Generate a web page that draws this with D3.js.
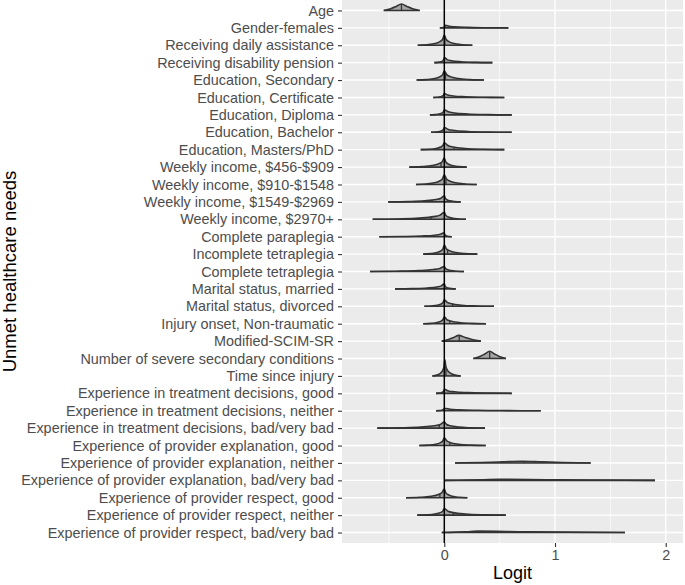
<!DOCTYPE html>
<html>
<head>
<meta charset="utf-8">
<script src="https://cdn.jsdelivr.net/npm/d3@7"></script>
<style>
  body { margin: 0; background: #fff; }
  text { font-family: "Liberation Sans", Arial, Helvetica, sans-serif; }
</style>
</head>
<body>
<div id="chart"></div>
<script>
// categories, top to bottom
const labels = [
  'Age', 'Gender-females', 'Receiving daily assistance', 'Receiving disability pension',
  'Education, Secondary', 'Education, Certificate', 'Education, Diploma', 'Education, Bachelor',
  'Education, Masters/PhD', 'Weekly income, $456-$909', 'Weekly income, $910-$1548',
  'Weekly income, $1549-$2969', 'Weekly income, $2970+', 'Complete paraplegia',
  'Incomplete tetraplegia', 'Complete tetraplegia', 'Marital status, married',
  'Marital status, divorced', 'Injury onset, Non-traumatic', 'Modified-SCIM-SR',
  'Number of severe secondary conditions', 'Time since injury',
  'Experience in treatment decisions, good', 'Experience in treatment decisions, neither',
  'Experience in treatment decisions, bad/very bad', 'Experience of provider explanation, good',
  'Experience of provider explanation, neither', 'Experience of provider explanation, bad/very bad',
  'Experience of provider respect, good', 'Experience of provider respect, neither',
  'Experience of provider respect, bad/very bad'
];

// posterior density summaries (logit scale)
const lows    = [-0.547, -0.04, -0.24, -0.09, -0.25, -0.10, -0.13, -0.12, -0.213, -0.316, -0.256, -0.506, -0.647, -0.587, -0.19, -0.671, -0.445, -0.18, -0.19, -0.023, 0.262, -0.108, -0.075, -0.075, -0.605, -0.226, 0.097, 0.006, -0.346, -0.244, -0.023];
const modes   = [-0.387, 0.01, 0, 0, 0, 0, 0, 0, 0, 0, 0, 0, 0, 0, 0, 0, 0, 0, 0, 0.13, 0.41, 0.005, 0, 0, 0, 0, 0.70, 0.50, 0, 0, 0.30];
const highs   = [-0.222, 0.578, 0.253, 0.434, 0.359, 0.542, 0.609, 0.609, 0.542, 0.202, 0.293, 0.148, 0.196, 0.067, 0.298, 0.178, 0.103, 0.449, 0.377, 0.33, 0.557, 0.148, 0.609, 0.871, 0.368, 0.374, 1.322, 1.903, 0.208, 0.555, 1.632];
// peak density height, in row steps
const peaks   = [0.37, 0.15, 0.58, 0.29, 0.52, 0.23, 0.29, 0.27, 0.40, 0.52, 0.56, 0.35, 0.40, 0.23, 0.52, 0.29, 0.29, 0.38, 0.40, 0.33, 0.42, 0.92, 0.23, 0.14, 0.35, 0.44, 0.10, 0.06, 0.50, 0.38, 0.08];
const medians = [-0.387, 0.232, 0.005, 0.12, 0.01, 0.15, 0.155, 0.165, 0.09, -0.03, 0.015, -0.11, -0.12, -0.19, 0.03, -0.14, -0.12, 0.075, 0.05, 0.135, 0.41, 0.015, 0.2, 0.3, -0.045, 0.05, 0.72, 0.75, -0.04, 0.08, 0.70];
const shapes  = ['bell', 'cusp', 'cusp', 'cusp', 'cusp', 'cusp', 'cusp', 'cusp', 'cusp', 'cusp', 'cusp', 'cusp', 'cusp', 'cusp', 'cusp', 'cusp', 'cusp', 'cusp', 'cusp', 'bell', 'bell', 'cusp', 'cusp', 'cusp', 'cusp', 'cusp', 'bell', 'bell', 'cusp', 'cusp', 'bell'];
const xTicks = [0, 1, 2];

const W = 685, H = 585;
const panel = { left: 342, right: 683, top: 0, bottom: 543 };

const svg = d3.select('#chart').append('svg')
  .attr('width', W).attr('height', H);

const x = d3.scaleLinear().domain([-0.924, 2.156]).range([panel.left, panel.right]);
const y = d3.scalePoint().domain(labels).range([panel.top, panel.bottom]).padding(0.6);
const step = y.step();

// panel
svg.append('rect')
  .attr('x', panel.left).attr('y', panel.top)
  .attr('width', panel.right - panel.left).attr('height', panel.bottom - panel.top)
  .attr('fill', '#ebebeb');

const grid = svg.append('g');
grid.selectAll('.minor').data([-0.5, 0.5, 1.5]).enter().append('line')
  .attr('x1', d => x(d)).attr('x2', d => x(d))
  .attr('y1', panel.top).attr('y2', panel.bottom)
  .attr('stroke', '#fff').attr('stroke-width', 0.7);
grid.selectAll('.majx').data(xTicks).enter().append('line')
  .attr('x1', d => x(d)).attr('x2', d => x(d))
  .attr('y1', panel.top).attr('y2', panel.bottom)
  .attr('stroke', '#fff').attr('stroke-width', 1.4);
grid.selectAll('.majy').data(labels).enter().append('line')
  .attr('x1', panel.left).attr('x2', panel.right)
  .attr('y1', d => y(d)).attr('y2', d => y(d))
  .attr('stroke', '#fff').attr('stroke-width', 1.4);

// outline profile: [fraction of distance from mode, fraction of peak]
const profiles = {
  cusp: [[0, 1], [0.06, 0.6], [0.15, 0.38], [0.35, 0.17], [0.65, 0.05], [1, 0]],
  bell: [[0, 1], [0.3, 0.62], [0.6, 0.28], [1, 0]]
};

function ridgePoints(i) {
  const prof = profiles[shapes[i]];
  const m = modes[i];
  const left = prof.slice().reverse().map(([t, h]) => [m - t * (m - lows[i]), h * peaks[i]]);
  const right = prof.slice(1).map(([t, h]) => [m + t * (highs[i] - m), h * peaks[i]]);
  return left.concat(right);
}

const ridges = svg.append('g');
labels.forEach((lab, i) => {
  const pts = ridgePoints(i);
  const base = y(lab);
  const area = d3.area()
    .x(d => x(d[0]))
    .y0(base)
    .y1(d => base - d[1] * step)
    .curve(d3.curveMonotoneX);
  const line = d3.line()
    .x(d => x(d[0]))
    .y(d => base - d[1] * step)
    .curve(d3.curveMonotoneX);

  ridges.append('path').attr('d', area(pts))
    .attr('fill', '#a4a4a4').attr('stroke', 'none');

  const hAt = d3.scaleLinear().domain(pts.map(d => d[0])).range(pts.map(d => d[1])).clamp(true);
  ridges.append('line')
    .attr('x1', x(medians[i])).attr('x2', x(medians[i]))
    .attr('y1', base).attr('y2', base - hAt(medians[i]) * step)
    .attr('stroke', '#333').attr('stroke-width', 1.3);

  ridges.append('path').attr('d', line(pts))
    .attr('fill', 'none').attr('stroke', '#333').attr('stroke-width', 1.6);
  ridges.append('line')
    .attr('x1', x(lows[i])).attr('x2', x(highs[i]))
    .attr('y1', base).attr('y2', base)
    .attr('stroke', '#333').attr('stroke-width', 1.6);
});

// reference line at zero
svg.append('line')
  .attr('x1', x(0)).attr('x2', x(0))
  .attr('y1', panel.top).attr('y2', panel.bottom)
  .attr('stroke', '#000').attr('stroke-width', 1.5);

// axes
const yAxis = svg.append('g')
  .attr('transform', `translate(${panel.left},0)`)
  .call(d3.axisLeft(y).tickSize(4).tickPadding(4));
const xAxis = svg.append('g')
  .attr('transform', `translate(0,${panel.bottom})`)
  .call(d3.axisBottom(x).tickValues(xTicks).tickFormat(d3.format('d')).tickSize(4).tickPadding(3));

[yAxis, xAxis].forEach(ax => {
  ax.select('.domain').remove();
  ax.attr('font-size', null).attr('font-family', null);
  ax.selectAll('.tick line').attr('stroke', '#333').attr('stroke-width', 1.1);
  ax.selectAll('.tick text')
    .attr('fill', '#4d4d4d')
    .style('font-size', '14.4px')
    .style('font-family', '"Liberation Sans", Arial, Helvetica, sans-serif');
});

svg.append('text')
  .attr('x', (panel.left + panel.right) / 2).attr('y', 579)
  .attr('text-anchor', 'middle')
  .style('font-size', '18px')
  .attr('fill', '#000')
  .text('Logit');

svg.append('text')
  .attr('transform', `translate(16,${(panel.top + panel.bottom) / 2}) rotate(-90)`)
  .attr('text-anchor', 'middle')
  .style('font-size', '18.5px')
  .attr('fill', '#000')
  .text('Unmet healthcare needs');
</script>
</body>
</html>
